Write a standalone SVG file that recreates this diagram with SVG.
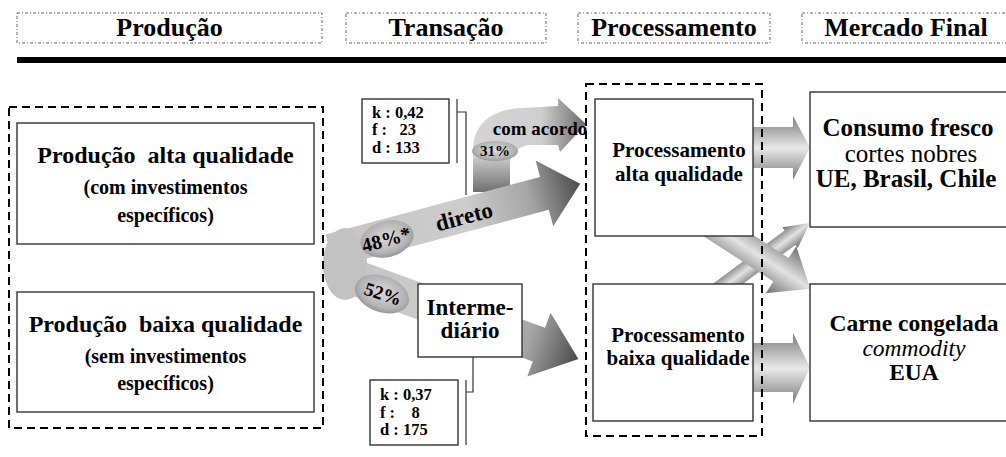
<svg xmlns="http://www.w3.org/2000/svg" width="1006" height="457" viewBox="0 0 1006 457">
<defs>
<style>
text{font-family:'Liberation Serif','Times New Roman',Tinos,'DejaVu Serif',serif}
.hdr{fill:#fff;stroke:#666;stroke-width:1;stroke-dasharray:3 2 1 2}
.ht{font-weight:bold;font-size:26px;text-anchor:middle;fill:#000}
.box{fill:#fff;stroke:#333;stroke-width:1.4}
.grp{fill:none;stroke:#000;stroke-width:2;stroke-dasharray:8 5}
.b{font-weight:bold;fill:#000;text-anchor:middle}
.r{fill:#000;text-anchor:middle}
.kfd{font-weight:bold;font-size:16.5px;fill:#000;white-space:pre}
.lead{fill:none;stroke:#333;stroke-width:1.2}
.ell{fill:url(#gEll)}
</style>
<linearGradient id="gBand" x1="0" y1="0" x2="1" y2="0">
<stop offset="0" stop-color="#c4c4c4"/>
<stop offset="0.55" stop-color="#cdcdcd"/>
<stop offset="0.8" stop-color="#a4a4a4"/>
<stop offset="1" stop-color="#4a4a4a"/>
</linearGradient>
<linearGradient id="gRight" x1="0" y1="0" x2="0" y2="1">
<stop offset="0" stop-color="#7a7a7a"/>
<stop offset="0.5" stop-color="#e8e8e8"/>
<stop offset="1" stop-color="#7a7a7a"/>
</linearGradient>
<linearGradient id="gCross" x1="0" y1="0" x2="0" y2="1">
<stop offset="0" stop-color="#707070"/>
<stop offset="0.5" stop-color="#e2e2e2"/>
<stop offset="1" stop-color="#707070"/>
</linearGradient>
<linearGradient id="gAcH" x1="0" y1="0" x2="1" y2="0">
<stop offset="0" stop-color="#d4d4d4"/>
<stop offset="0.6" stop-color="#cfcfcf"/>
<stop offset="1" stop-color="#6a6a6a"/>
</linearGradient>
<linearGradient id="gAcV" x1="0" y1="0" x2="0" y2="1">
<stop offset="0" stop-color="#c8c8c8"/>
<stop offset="1" stop-color="#6e6e6e"/>
</linearGradient>
<radialGradient id="gEll" cx="0.5" cy="0.45" r="0.6">
<stop offset="0" stop-color="#dadada"/>
<stop offset="0.7" stop-color="#b4b4b4"/>
<stop offset="1" stop-color="#8a8a8a"/>
</radialGradient>
</defs>
<rect width="1006" height="457" fill="#fff"/>

<g id="header">
<rect class="hdr" x="17" y="13" width="305" height="30"/>
<text class="ht" x="169.5" y="36">Produção</text>
<rect class="hdr" x="346" y="13" width="200" height="30"/>
<text class="ht" x="446" y="36">Transação</text>
<rect class="hdr" x="578" y="13" width="192" height="30"/>
<text class="ht" x="674" y="36">Processamento</text>
<rect class="hdr" x="802" y="13" width="220" height="30"/>
<text class="ht" x="906" y="36">Mercado Final</text>
<rect x="17" y="57" width="989" height="6" fill="#000"/>
</g>

<g id="connectors">
<path d="M473,192 L473,150 C473,124 492,109 522,108 L558,106 L558,98 L586,124 L560,152 L558,145 L532,145 C519,145 510,153 510,166 L510,192 Z" fill="url(#gAcH)"/>
<rect x="473" y="158" width="37" height="34" fill="url(#gAcV)"/>
<g transform="translate(335,270.4) rotate(20)">
<path d="M0,-18 L217,-18 L217,-34 L259,0 L217,34 L217,18 L0,18 Z" fill="url(#gBand)"/>
</g>
<g transform="translate(330,250.8) rotate(-15)">
<path d="M0,-17 L222,-17 L222,-34 L259,0 L222,34 L222,17 L0,17 Z" fill="url(#gBand)"/>
</g>
<ellipse cx="345" cy="264" rx="22" ry="36" fill="#c2c2c2"/>
<path d="M753,127 H793 V116 L810,147.5 L793,180 V168 H753 Z" fill="url(#gRight)"/>
<path d="M753,343 H793 V333 L810,367.5 L793,404 V392 H753 Z" fill="url(#gRight)"/>
<g transform="translate(729,283) rotate(-36.6)">
<path d="M-30,-9 L76,-9 L76,-13 L100.7,0 L76,13 L76,9 L-30,9 Z" fill="url(#gCross)"/>
</g>
<g transform="translate(729,236) rotate(33)">
<path d="M-30,-14 L62,-14 L62,-28 L97,0 L62,28 L62,14 L-30,14 Z" fill="url(#gCross)"/>
</g>
<ellipse class="ell" cx="0" cy="0" rx="27" ry="18" transform="translate(387,239) rotate(-15)"/>
<text class="b" font-size="20" transform="translate(388,246) rotate(-15)">48%*</text>
<text class="b" font-size="23" transform="translate(466,224) rotate(-15)">direto</text>
<ellipse class="ell" cx="0" cy="0" rx="28" ry="18" transform="translate(382,294) rotate(20)"/>
<text class="b" font-size="19" transform="translate(381,300) rotate(18)">52%</text>
<ellipse class="ell" cx="495" cy="151" rx="23" ry="10"/>
<text class="b" font-size="15" x="495" y="156">31%</text>
<text class="b" font-size="19" x="540" y="135">com acordo</text>
<line class="lead" x1="457" y1="99" x2="457" y2="163"/>
<path class="lead" d="M457,112 H466 V195"/>
<line class="lead" x1="466" y1="380" x2="466" y2="445"/>
<path class="lead" d="M466,392 H473 V357"/>
</g>

<g id="prod-alta">
<rect class="box" x="17" y="123" width="297" height="121"/>
<text class="b" font-size="24" x="165.5" y="163" style="white-space:pre">Produção  alta qualidade</text>
<text class="b" font-size="20" x="165.5" y="194">(com investimentos</text>
<text class="b" font-size="20" x="165.5" y="222">específicos)</text>
</g>
<g id="prod-baixa">
<rect class="box" x="17" y="292" width="297" height="120"/>
<text class="b" font-size="24" x="165.5" y="332" style="white-space:pre">Produção  baixa qualidade</text>
<text class="b" font-size="20" x="165.5" y="363">(sem investimentos</text>
<text class="b" font-size="20" x="165.5" y="390">específicos)</text>
</g>
<g id="kfd-1">
<rect class="box" x="362" y="99" width="87" height="64"/>
<text class="kfd" x="372" y="118">k : 0,42</text>
<text class="kfd" x="372" y="135">f :   23</text>
<text class="kfd" x="372" y="153">d : 133</text>
</g>
<g id="intermediario">
<rect class="box" x="418" y="284" width="104" height="73"/>
<text class="b" font-size="23" x="470" y="315">Interme-</text>
<text class="b" font-size="23" x="470" y="338">diário</text>
</g>
<g id="kfd-2">
<rect class="box" x="370" y="380" width="88" height="65"/>
<text class="kfd" x="380" y="400">k : 0,37</text>
<text class="kfd" x="380" y="418">f :    8</text>
<text class="kfd" x="380" y="435">d : 175</text>
</g>
<g id="proc-alta">
<rect class="box" x="595" y="99" width="158" height="137"/>
<text class="b" font-size="21" x="679" y="157">Processamento</text>
<text class="b" font-size="21" x="679" y="181">alta qualidade</text>
</g>
<g id="proc-baixa">
<rect class="box" x="593" y="284" width="160" height="137"/>
<text class="b" font-size="21" x="678" y="342">Processamento</text>
<text class="b" font-size="21" x="678" y="365">baixa qualidade</text>
</g>
<g id="consumo">
<rect class="box" x="810" y="92" width="220" height="135"/>
<text class="b" font-size="25" x="908" y="136">Consumo fresco</text>
<text class="r" font-size="25" x="911" y="162">cortes nobres</text>
<text class="b" font-size="25" x="906" y="187">UE, Brasil, Chile</text>
</g>
<g id="carne">
<rect class="box" x="810" y="284" width="220" height="137"/>
<text class="b" font-size="23.5" x="914" y="331">Carne congelada</text>
<text class="r" font-size="23.5" font-style="italic" x="914" y="356">commodity</text>
<text class="b" font-size="23.5" x="914" y="380">EUA</text>
</g>
<g id="group-frames">
<rect class="grp" x="9" y="107" width="314" height="321"/>
<rect class="grp" x="586" y="84" width="176" height="352"/>
</g>
</svg>
